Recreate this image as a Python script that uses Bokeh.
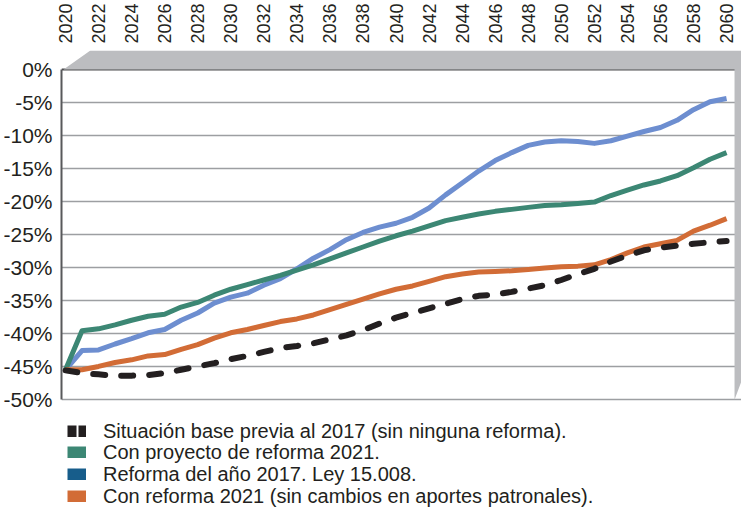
from bokeh.plotting import figure
from bokeh.models import (LinearAxis, FixedTicker, PrintfTickFormatter, Range1d,
                          Legend, LegendItem, Span, ColumnDataSource)
from bokeh.embed import file_html
from bokeh.resources import INLINE

years = list(range(2020, 2061))
year_ticks = list(range(2020, 2061, 2))
pct_ticks = [0, -5, -10, -15, -20, -25, -30, -35, -40, -45, -50]

base_2017 = [-45.6, -46.0, -46.2, -46.4, -46.4, -46.3, -46.0, -45.5, -45.0, -44.5,
             -43.9, -43.4, -42.8, -42.2, -41.9, -41.5, -40.9, -40.3, -39.5, -38.5,
             -37.6, -36.9, -36.2, -35.5, -34.8, -34.3, -34.1, -33.7, -33.2, -32.7,
             -31.9, -31.0, -30.2, -29.1, -28.2, -27.4, -27.0, -26.7, -26.4, -26.2, -26.0]
proyecto_2021 = [-45.5, -39.6, -39.3, -38.7, -38.0, -37.4, -37.1, -36.0, -35.3, -34.2,
                 -33.3, -32.6, -31.9, -31.2, -30.4, -29.6, -28.7, -27.8, -26.9, -26.0,
                 -25.2, -24.5, -23.7, -22.9, -22.4, -21.9, -21.5, -21.2, -20.9, -20.6,
                 -20.5, -20.3, -20.1, -19.1, -18.3, -17.5, -16.9, -16.1, -14.9, -13.6, -12.6]
reforma_2017 = [-45.5, -42.6, -42.5, -41.6, -40.8, -39.9, -39.4, -38.0, -36.9, -35.4,
                -34.5, -33.9, -32.7, -31.7, -30.2, -28.6, -27.3, -25.8, -24.7, -23.9,
                -23.3, -22.4, -21.0, -19.0, -17.2, -15.4, -13.8, -12.6, -11.5, -11.0,
                -10.8, -10.9, -11.2, -10.8, -10.1, -9.4, -8.8, -7.7, -6.1, -4.9, -4.4]
reforma_2021_sin = [-45.5, -45.5, -45.0, -44.4, -44.0, -43.4, -43.2, -42.4, -41.7, -40.7,
                    -39.9, -39.4, -38.8, -38.2, -37.8, -37.2, -36.4, -35.6, -34.8, -34.0,
                    -33.3, -32.8, -32.1, -31.4, -31.0, -30.7, -30.6, -30.5, -30.3, -30.1,
                    -29.9, -29.8, -29.6, -28.8, -27.8, -26.9, -26.4, -25.9, -24.5, -23.6, -22.6]

legend_labels = ["Situación base previa al 2017 (sin ninguna reforma).",
                 "Con proyecto de reforma 2021.",
                 "Reforma del año 2017. Ley 15.008.",
                 "Con reforma 2021 (sin cambios en aportes patronales)."]

FONT = "Liberation Sans"
TXT = "#231f20"
C_BLACK = "#231f20"
C_GREEN = "#3c8774"
C_BLUE_LINE = "#6d8ed0"
C_BLUE_LEG = "#175d8b"
C_ORANGE = "#d26c36"
WALL = "#bcbdc0"

W, H = 741, 510
OX, OY = 3, 3            # observed page offset of the canvas
PX_YEAR = 16.6
PX_PCT = 6.614
X2020, Y0 = 65, 71       # page px of year 2020 and of 0 %
FL, FT = 61, 52          # page px of frame left / top
FR, FB = OX + W, OY + H  # frame right / bottom = canvas edges

x0 = 2020 + (FL - X2020) / PX_YEAR
x1 = 2020 + (FR - X2020) / PX_YEAR
y_top = (Y0 - FT) / PX_PCT
y_bot = -(FB - Y0) / PX_PCT
y_plot_bot = -50 - 0.3 / PX_PCT

p = figure(width=W, height=H, output_backend="svg", toolbar_location=None,
           x_range=Range1d(x0, x1), y_range=Range1d(y_bot, y_top),
           x_axis_location=None, y_axis_location=None,
           min_border_left=FL - OX, min_border_right=0, min_border_top=FT - OY,
           min_border_bottom=0)
p.outline_line_color = None
p.background_fill_color = "white"
p.border_fill_color = "white"
p.xgrid.visible = False
p.ygrid.ticker = FixedTicker(ticks=pct_ticks[1:])
p.ygrid.grid_line_color = "#9d9fa2"
p.ygrid.grid_line_width = 1.5

# left axis
yax = LinearAxis(ticker=FixedTicker(ticks=pct_ticks),
                 formatter=PrintfTickFormatter(format="%d%%"), bounds=(-50, 0))
yax.axis_line_color = "#58595b"
yax.axis_line_width = 2
yax.major_tick_line_color = None
yax.minor_tick_line_color = None
yax.major_tick_out = 0
yax.major_tick_in = 0
yax.major_label_standoff = 9
yax.major_label_text_font = FONT
yax.major_label_text_font_size = "21px"
yax.major_label_text_color = TXT
p.add_layout(yax, "left")

# top axis
xax = LinearAxis(ticker=FixedTicker(ticks=year_ticks))
xax.axis_line_color = None
xax.major_tick_line_color = None
xax.minor_tick_line_color = None
xax.major_tick_out = 0
xax.major_tick_in = 0
xax.major_label_standoff = 7
xax.major_label_orientation = "vertical"
xax.major_label_text_font = FONT
xax.major_label_text_font_size = "18px"
xax.major_label_text_color = TXT
p.add_layout(xax, "above")

# top border line at 0%
top_line = Span(location=0, dimension="width", line_color="#4d4d4f", line_width=2,
                level="underlay")
p.add_layout(top_line)

# 3D walls (top band and right wall)
x_wall = 2020 + (737 - X2020) / PX_YEAR
x_diag = 2020 + (90 - X2020) / PX_YEAR
x_start = 2020 + (63 - X2020) / PX_YEAR
y_wall_edge = -((402 - 32 * (FR - 737) / 12) - Y0) / PX_PCT
p.patch([x_start, x_diag, x1, x1, x_wall, x_wall],
        [0, y_top, y_top, y_wall_edge, y_plot_bot, 0], fill_color=WALL, line_color=None)

lw = 5
p.line(years, reforma_2017, line_color=C_BLUE_LINE, line_width=lw, line_join="round")
p.line(years, proyecto_2021, line_color=C_GREEN, line_width=lw, line_join="round")
p.line(years, reforma_2021_sin, line_color=C_ORANGE, line_width=lw, line_join="round")
p.line(years, base_2017, line_color=C_BLACK, line_width=6, line_dash="12 16",
       line_cap="round", line_join="round")

# legend swatches (renderers without visible data)
nan = float("nan")
def swatch(color, **kw):
    src = ColumnDataSource(data=dict(x=[nan], y=[nan]))
    return p.line("x", "y", source=src, line_color=color, line_width=12, **kw)

swatches = [swatch(C_BLACK, line_dash="9 2"), swatch(C_GREEN),
            swatch(C_BLUE_LEG), swatch(C_ORANGE)]
row_centers = [434, 455, 477, 499]   # page px of each legend row
ROW_H = 23

for lab, r, cy in zip(legend_labels, swatches, row_centers):
    lg = Legend(items=[LegendItem(label=lab, renderers=[r])],
                location=(6, FB - (cy + ROW_H / 2)))
    lg.background_fill_alpha = 0
    lg.border_line_color = None
    lg.padding = 0
    lg.margin = 0
    lg.spacing = 0
    lg.glyph_width = 19
    lg.glyph_height = 12
    lg.label_height = 21
    lg.label_standoff = 17
    lg.label_text_font = FONT
    lg.label_text_font_size = "20px"
    lg.label_text_color = TXT
    p.add_layout(lg)

open("out.html", "w").write(file_html(p, INLINE))
